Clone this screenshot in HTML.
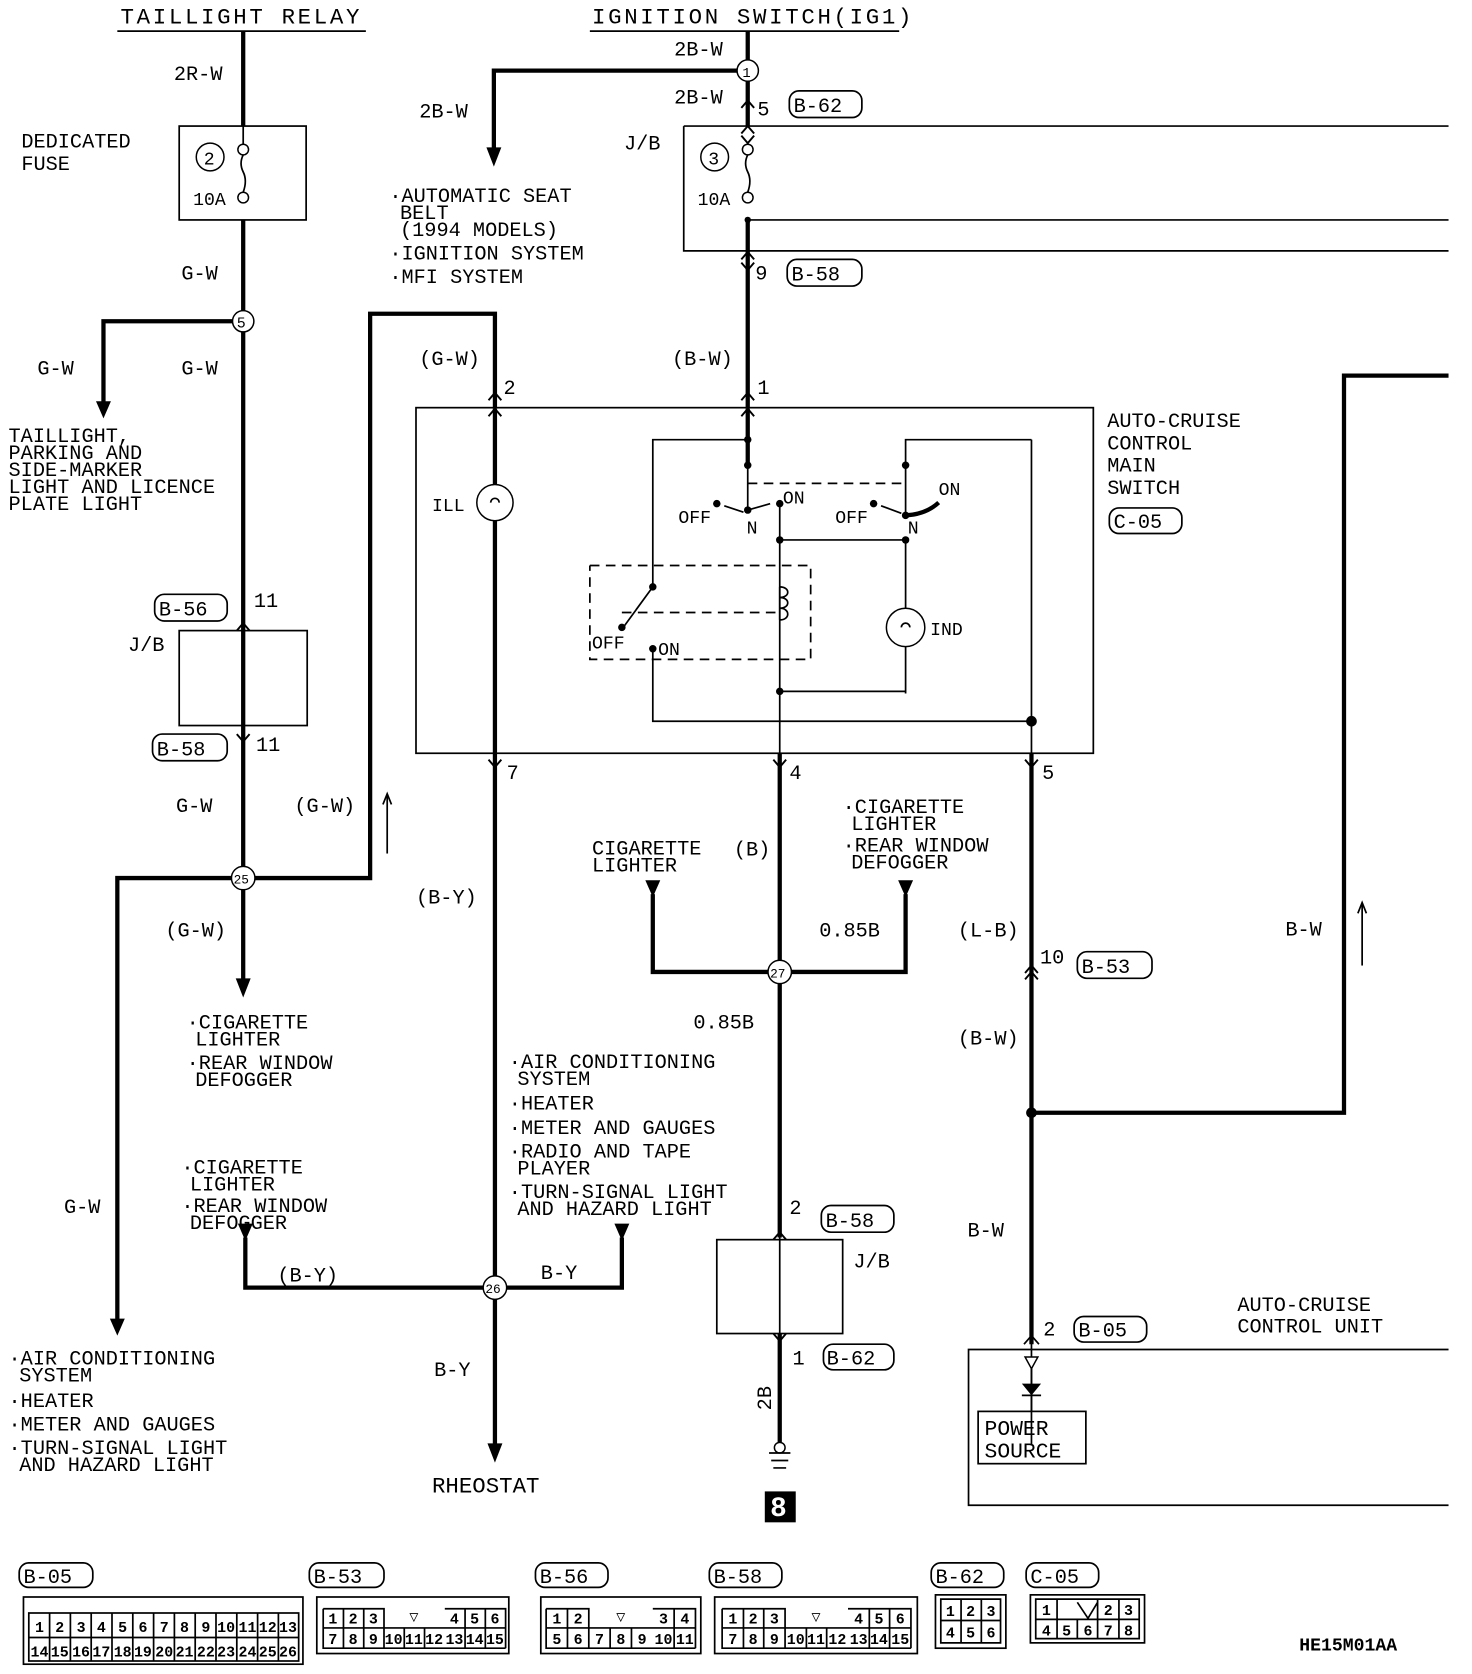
<!DOCTYPE html>
<html><head><meta charset="utf-8"><style>
html,body{margin:0;padding:0;background:#fff;}
svg{display:block}
text{font-family:"Liberation Mono",monospace;font-size:19px;fill:#000}
.h{font-size:21px;letter-spacing:2.5px}
.s{font-size:17px}
.w{stroke:#000;stroke-width:4;fill:none}
.t{stroke:#000;stroke-width:1.6;fill:none}
.k{stroke:#000;stroke-width:1.8;fill:none}
.d{stroke:#000;stroke-width:1.6;fill:none;stroke-dasharray:9 6}
.c{stroke:#000;stroke-width:1.4;fill:#fff}
.cn text{font-size:14px;font-weight:bold;text-anchor:middle}
</style></head><body>
<svg width="1472" height="1674" viewBox="0 0 1380 1569" xmlns="http://www.w3.org/2000/svg">
<!-- headers -->
<text class="h" x="113" y="22">TAILLIGHT RELAY</text>
<line x1="110" y1="29" x2="343" y2="29" class="t" stroke-width="2.5"/>
<text class="h" x="555" y="22">IGNITION SWITCH(IG1)</text>
<line x1="553" y1="29" x2="843" y2="29" class="t" stroke-width="2.5"/>

<!-- left taillight branch -->
<path class="w" d="M228 29V118M228 206V823M228 823V925"/>
<rect x="168" y="118" width="119" height="88" class="t"/>
<line x1="228" y1="118" x2="228" y2="135" class="t"/>
<circle cx="228" cy="140" r="5" class="c"/><circle cx="228" cy="185" r="5" class="c"/>
<path class="t" d="M228 145q-4 8 0 16q4 8 0 19"/>
<circle cx="197" cy="147" r="13" class="c"/><text x="191" y="154" class="s">2</text>
<text x="181" y="192" class="s">10A</text>
<text x="163" y="75">2R-W</text>
<text x="20" y="138">DEDICATED</text><text x="20" y="159">FUSE</text>
<text x="170" y="262">G-W</text>
<path class="w" d="M228 301H97V380"/>
<polygon points="90,376 104,376 97,392"/>
<circle cx="228" cy="301" r="10" class="c" stroke-width="2"/><text x="222" y="307" class="s" style="font-size:14px">5</text>
<text x="35" y="351">G-W</text><text x="170" y="351">G-W</text>
<g class="s"><text x="8" y="414">TAILLIGHT,</text><text x="8" y="430">PARKING AND</text><text x="8" y="446">SIDE-MARKER</text><text x="8" y="462">LIGHT AND LICENCE</text><text x="8" y="478">PLATE LIGHT</text></g>
<rect x="145" y="557" width="68" height="25" rx="9" class="t"/><text x="149" y="577">B-56</text>
<text x="238" y="569">11</text>
<rect x="168" y="591" width="120" height="89" class="t"/>
<text x="120" y="610">J/B</text>
<rect x="143" y="688" width="70" height="25" rx="9" class="t"/><text x="147" y="708">B-58</text>
<text x="240" y="704">11</text>
<text x="165" y="761">G-W</text>
<polygon points="221,917 235,917 228,935"/>
<path class="w" d="M228 823H110V1240"/>
<polygon points="103,1236 117,1236 110,1252"/>
<text x="60" y="1137">G-W</text>
<path class="w" d="M228 823H347V294H464V383"/>
<text x="276" y="761">(G-W)</text>
<line x1="363" y1="800" x2="363" y2="746" class="t"/><path class="t" d="M359 754L363 744L367 754"/>
<text x="155" y="878">(G-W)</text>
<circle cx="228" cy="823" r="11" class="c" stroke-width="2"/><text x="219" y="828" style="font-size:12px">25</text>
<g class="s"><text x="175" y="964">·CIGARETTE</text><text x="183" y="980">LIGHTER</text><text x="175" y="1002">·REAR WINDOW</text><text x="183" y="1018">DEFOGGER</text></g>
<g class="s"><text x="8" y="1279">·AIR CONDITIONING</text><text x="18" y="1295">SYSTEM</text><text x="8" y="1319">·HEATER</text><text x="8" y="1341">·METER AND GAUGES</text><text x="8" y="1363">·TURN-SIGNAL LIGHT</text><text x="18" y="1379">AND HAZARD LIGHT</text></g>

<!-- ignition branch -->
<path class="w" d="M701 29V118M701 206V383M701 66H463V140"/>
<polygon points="456,138 470,138 463,156"/>
<circle cx="701" cy="66" r="10" class="c" stroke-width="2"/><text x="696" y="72" style="font-size:13px">1</text>
<text x="632" y="52">2B-W</text><text x="632" y="97">2B-W</text><text x="710" y="108">5</text>
<rect x="740" y="85" width="68" height="25" rx="9" class="t"/><text x="744" y="105">B-62</text>
<text x="393" y="110">2B-W</text>
<path class="t" d="M641 118H1358M641 118V235H1358M701 206H1358"/>
<circle cx="701" cy="206" r="3"/>
<circle cx="701" cy="140" r="5" class="c"/><circle cx="701" cy="185" r="5" class="c"/>
<path class="t" d="M701 145q-4 8 0 16q4 8 0 19"/>
<circle cx="670" cy="147" r="13" class="c"/><text x="664" y="154" class="s">3</text>
<text x="654" y="192" class="s">10A</text>
<text x="585" y="140">J/B</text>
<text x="708" y="262">9</text>
<rect x="738" y="243" width="70" height="25" rx="9" class="t"/><text x="742" y="263">B-58</text>
<g class="s"><text x="365" y="189">·AUTOMATIC SEAT</text><text x="375" y="205">BELT</text><text x="375" y="221">(1994 MODELS)</text><text x="365" y="243">·IGNITION SYSTEM</text><text x="365" y="265">·MFI SYSTEM</text></g>
<text x="630" y="342">(B-W)</text><text x="710" y="369">1</text>
<text x="393" y="342">(G-W)</text><text x="472" y="369">2</text>

<!-- connector chevrons -->
<path class="k" d="M695 101L701 94L707 101M695 125L701 118L707 125M695 127L701 134L707 127M695 246L701 253L707 246M695 243L701 236L707 243M695 375L701 368L707 375M695 390L701 383L707 390M458 375L464 368L470 375M458 390L464 383L470 390M458 712L464 719L470 712M725 712L731 719L737 712M961 712L967 719L973 712M222 591L228 584L234 591M222 688L228 695L234 688M961 912L967 905L973 912M961 918L967 911L973 918M725 1162L731 1155L737 1162M725 1250L731 1257L737 1250"/>

<!-- main switch -->
<rect x="390" y="382" width="635" height="324" class="t"/>
<text x="1038" y="400">AUTO-CRUISE</text><text x="1038" y="421">CONTROL</text><text x="1038" y="442">MAIN</text><text x="1038" y="463">SWITCH</text>
<rect x="1040" y="476" width="68" height="24" rx="9" class="t"/><text x="1044" y="495">C-05</text>
<path class="w" d="M464 383V1355" stroke-width="3.5"/>
<polygon points="457,1353 471,1353 464,1371"/>
<circle cx="464" cy="471" r="17" class="c" stroke-width="2"/><path class="t" d="M460 471a4 4 0 1 1 8 0"/>
<text x="405" y="479" class="s">ILL</text>
<path class="w" d="M701 383V436" stroke-width="3"/>
<path class="t" d="M701 412H612V550M701 436V478M612 608V676H967M967 412H849V436M849 506V650M731 472V1350M731 506H849M731 648H849V606M967 412V1355M849 436V480"/>
<path class="d" d="M701 453H849"/>
<path class="d" d="M553 530H760V618H553V530M583 574H731"/>
<circle cx="701" cy="412" r="3.5"/><circle cx="701" cy="436" r="3.5"/><circle cx="701" cy="478" r="3.5"/>
<circle cx="731" cy="472" r="3.5"/><circle cx="672" cy="472" r="3.5"/><circle cx="849" cy="436" r="3.5"/><circle cx="819" cy="472" r="3.5"/><circle cx="849" cy="483" r="3.5"/><circle cx="731" cy="506" r="3.5"/><circle cx="849" cy="506" r="3.5"/><circle cx="612" cy="550" r="3.5"/><circle cx="583" cy="588" r="3.5"/><circle cx="612" cy="608" r="3.5"/><circle cx="731" cy="648" r="3.5"/><circle cx="967" cy="676" r="5"/>
<path class="t" d="M701 478L722 472M612 550L585 587M679 474L697 480M826 474L845 481"/>
<path class="w" d="M849 483Q868 482 880 471" stroke-width="3"/>
<path class="t" d="M731 550c10 0 10 10 0 10c10 0 10 10 0 10c10 0 10 11 0 11M731 550v31" fill="#fff"/>
<circle cx="849" cy="588" r="18" class="c" stroke-width="2"/><path class="t" d="M845 588a4 4 0 1 1 8 0"/>
<text x="872" y="595" class="s">IND</text>
<text x="636" y="490" class="s">OFF</text><text x="734" y="472" class="s">ON</text><text x="700" y="500" class="s">N</text>
<text x="783" y="490" class="s">OFF</text><text x="880" y="464" class="s">ON</text><text x="851" y="500" class="s">N</text>
<text x="555" y="608" class="s">OFF</text><text x="617" y="614" class="s">ON</text>
<text x="475" y="730">7</text><text x="740" y="730">4</text><text x="977" y="730">5</text>
<path class="w" d="M731 706V1160M967 706V1260" stroke-width="3.5"/>

<!-- junction 27 -->
<path class="w" d="M612 838V911H849V838"/>
<polygon points="605,825 619,825 612,841"/><polygon points="842,825 856,825 849,841"/>
<circle cx="731" cy="911" r="11" class="c" stroke-width="2"/><text x="722" y="916" style="font-size:12px">27</text>
<g class="s"><text x="555" y="801">CIGARETTE</text><text x="555" y="817">LIGHTER</text><text x="790" y="762">·CIGARETTE</text><text x="798" y="778">LIGHTER</text><text x="790" y="798">·REAR WINDOW</text><text x="798" y="814">DEFOGGER</text></g>
<text x="688" y="802">(B)</text>
<text x="768" y="878">0.85B</text><text x="650" y="964">0.85B</text>
<rect x="672" y="1162" width="118" height="88" class="t"/>
<text x="740" y="1138">2</text>
<rect x="770" y="1130" width="68" height="25" rx="9" class="t"/><text x="774" y="1150">B-58</text>
<text x="800" y="1188">J/B</text>
<text x="743" y="1279">1</text>
<rect x="772" y="1260" width="66" height="24" rx="9" class="t"/><text x="775" y="1279">B-62</text>
<path class="w" d="M731 1250V1352" stroke-width="3.5"/>
<text x="0" y="0" transform="translate(723,1322) rotate(-90)">2B</text>
<circle cx="731" cy="1357" r="5" class="c"/>
<path class="t" d="M721 1362H741M723 1369H739M725 1376H737"/>
<rect x="717" y="1398" width="29" height="29"/>
<text x="722" y="1421" style="fill:#fff;font-size:26px;font-weight:bold">8</text>

<!-- junction 26 -->
<path class="w" d="M230 1160V1207H583V1160"/>
<polygon points="223,1147 237,1147 230,1163"/><polygon points="576,1147 590,1147 583,1163"/>
<circle cx="464" cy="1207" r="11" class="c" stroke-width="2"/><text x="455" y="1212" style="font-size:12px">26</text>
<text x="260" y="1201">(B-Y)</text><text x="507" y="1199">B-Y</text><text x="390" y="847">(B-Y)</text><text x="407" y="1290">B-Y</text>
<text x="405" y="1399" style="font-size:21px">RHEOSTAT</text>
<g class="s"><text x="170" y="1100">·CIGARETTE</text><text x="178" y="1116">LIGHTER</text><text x="170" y="1136">·REAR WINDOW</text><text x="178" y="1152">DEFOGGER</text></g>
<g class="s"><text x="477" y="1001">·AIR CONDITIONING</text><text x="485" y="1017">SYSTEM</text><text x="477" y="1040">·HEATER</text><text x="477" y="1063">·METER AND GAUGES</text><text x="477" y="1085">·RADIO AND TAPE</text><text x="485" y="1101">PLAYER</text><text x="477" y="1123">·TURN-SIGNAL LIGHT</text><text x="485" y="1139">AND HAZARD LIGHT</text></g>

<!-- right wire -->
<text x="898" y="878">(L-B)</text><text x="975" y="903">10</text>
<rect x="1010" y="892" width="70" height="25" rx="9" class="t"/><text x="1014" y="912">B-53</text>
<text x="898" y="979">(B-W)</text>
<path class="w" d="M967 1043H1260V352H1358"/>
<circle cx="967" cy="1043" r="5"/>
<text x="1205" y="877">B-W</text>
<line x1="1277" y1="905" x2="1277" y2="848" class="t"/><path class="t" d="M1273 856L1277 846L1281 856"/>
<text x="907" y="1159">B-W</text><text x="978" y="1252">2</text>
<rect x="1007" y="1234" width="68" height="24" rx="9" class="t"/><text x="1011" y="1253">B-05</text>
<text x="1160" y="1229">AUTO-CRUISE</text><text x="1160" y="1249">CONTROL UNIT</text>
<path class="t" d="M1358 1265H908V1411H1358"/>
<path class="t" d="M960 1260L967 1252L974 1260"/>
<polygon points="961,1272 973,1272 967,1283" fill="#fff" stroke="#000" stroke-width="1.4"/>
<path class="t" d="M967 1283V1323M958 1308H976"/><polygon points="958,1297 976,1297 967,1308"/>
<rect x="917" y="1323" width="101" height="49" class="t"/>
<text x="923" y="1345" style="font-size:20px">POWER</text><text x="923" y="1366" style="font-size:20px">SOURCE</text>

<!-- connector labels -->
<g>
<rect x="18" y="1465" width="69" height="23" rx="9" class="t"/><text x="22" y="1484">B-05</text>
<rect x="290" y="1465" width="70" height="23" rx="9" class="t"/><text x="294" y="1484">B-53</text>
<rect x="502" y="1465" width="68" height="23" rx="9" class="t"/><text x="506" y="1484">B-56</text>
<rect x="665" y="1465" width="68" height="23" rx="9" class="t"/><text x="669" y="1484">B-58</text>
<rect x="873" y="1465" width="68" height="23" rx="9" class="t"/><text x="877" y="1484">B-62</text>
<rect x="962" y="1465" width="68" height="23" rx="9" class="t"/><text x="966" y="1484">C-05</text>
</g>
<g class="cn">
<!-- B-05 -->
<rect x="22" y="1497" width="262" height="63" class="t" stroke-width="2.5"/>
<rect x="27" y="1512" width="253" height="45" class="t"/>
<line x1="27" y1="1535" x2="280" y2="1535" class="t"/>
<path class="t" d="M46.5 1512V1557M66 1512V1557M85.5 1512V1557M105 1512V1557M124.5 1512V1557M144 1512V1557M163.5 1512V1557M183 1512V1557M202.5 1512V1557M222 1512V1557M241.5 1512V1557M261 1512V1557"/>
<text x="37" y="1530">1</text><text x="56" y="1530">2</text><text x="76" y="1530">3</text><text x="95" y="1530">4</text><text x="115" y="1530">5</text><text x="134" y="1530">6</text><text x="154" y="1530">7</text><text x="173" y="1530">8</text><text x="193" y="1530">9</text><text x="212" y="1530">10</text><text x="232" y="1530">11</text><text x="251" y="1530">12</text><text x="270" y="1530">13</text>
<text x="37" y="1553">14</text><text x="56" y="1553">15</text><text x="76" y="1553">16</text><text x="95" y="1553">17</text><text x="115" y="1553">18</text><text x="134" y="1553">19</text><text x="154" y="1553">20</text><text x="173" y="1553">21</text><text x="193" y="1553">22</text><text x="212" y="1553">23</text><text x="232" y="1553">24</text><text x="251" y="1553">25</text><text x="270" y="1553">26</text>
<!-- B-53 -->
<rect x="297" y="1497" width="180" height="53" class="t" stroke-width="2.5"/>
<path class="t" d="M303 1508H360V1545M417 1508H474V1545M303 1508V1545H474M303 1526H474M322 1508V1545M341 1508V1545M379 1526V1545M398 1526V1545M436 1508V1545M455 1508V1545"/>
<text x="312" y="1522">1</text><text x="331" y="1522">2</text><text x="350" y="1522">3</text><text x="426" y="1522">4</text><text x="445" y="1522">5</text><text x="464" y="1522">6</text>
<text x="312" y="1541">7</text><text x="331" y="1541">8</text><text x="350" y="1541">9</text><text x="369" y="1541">10</text><text x="388" y="1541">11</text><text x="407" y="1541">12</text><text x="426" y="1541">13</text><text x="445" y="1541">14</text><text x="464" y="1541">15</text>
<text x="388" y="1520">▽</text>
<!-- B-56 -->
<rect x="507" y="1497" width="150" height="53" class="t" stroke-width="2.5"/>
<path class="t" d="M512 1508H552V1545M612 1508H652V1545M512 1508V1545H652M512 1526H652M532 1508V1545M572 1526V1545M592 1526V1545M632 1508V1545"/>
<text x="522" y="1522">1</text><text x="542" y="1522">2</text><text x="622" y="1522">3</text><text x="642" y="1522">4</text>
<text x="522" y="1541">5</text><text x="542" y="1541">6</text><text x="562" y="1541">7</text><text x="582" y="1541">8</text><text x="602" y="1541">9</text><text x="622" y="1541">10</text><text x="642" y="1541">11</text>
<text x="582" y="1520">▽</text>
<!-- B-58 -->
<rect x="670" y="1497" width="190" height="53" class="t" stroke-width="2.5"/>
<path class="t" d="M677 1508H736V1545M795 1508H854V1545M677 1508V1545H854M677 1526H854M697 1508V1545M716 1508V1545M756 1526V1545M775 1526V1545M815 1508V1545M834 1508V1545"/>
<text x="687" y="1522">1</text><text x="706" y="1522">2</text><text x="726" y="1522">3</text><text x="805" y="1522">4</text><text x="824" y="1522">5</text><text x="844" y="1522">6</text>
<text x="687" y="1541">7</text><text x="706" y="1541">8</text><text x="726" y="1541">9</text><text x="746" y="1541">10</text><text x="765" y="1541">11</text><text x="785" y="1541">12</text><text x="805" y="1541">13</text><text x="824" y="1541">14</text><text x="844" y="1541">15</text>
<text x="765" y="1520">▽</text>
<!-- B-62 -->
<rect x="877" y="1495" width="66" height="50" class="t" stroke-width="2.5"/>
<path class="t" d="M882 1499H938V1540H882ZM882 1519H938M901 1499V1540M920 1499V1540"/>
<text x="891" y="1515">1</text><text x="910" y="1515">2</text><text x="929" y="1515">3</text><text x="891" y="1535">4</text><text x="910" y="1535">5</text><text x="929" y="1535">6</text>
<!-- C-05 -->
<rect x="966" y="1495" width="107" height="45" class="t" stroke-width="2"/>
<path class="t" d="M971 1499H1068V1536H971ZM971 1518H1068M991 1499V1536M1010 1518V1536M1029 1499V1536M1049 1499V1536M1010 1502L1020 1517L1029 1502"/>
<text x="981" y="1514">1</text><text x="1039" y="1514">2</text><text x="1058" y="1514">3</text>
<text x="981" y="1533">4</text><text x="1000" y="1533">5</text><text x="1020" y="1533">6</text><text x="1039" y="1533">7</text><text x="1058" y="1533">8</text>
</g>
<text x="1218" y="1547" style="font-size:17px;font-weight:bold">HE15M01AA</text>
</svg>
</body></html>
